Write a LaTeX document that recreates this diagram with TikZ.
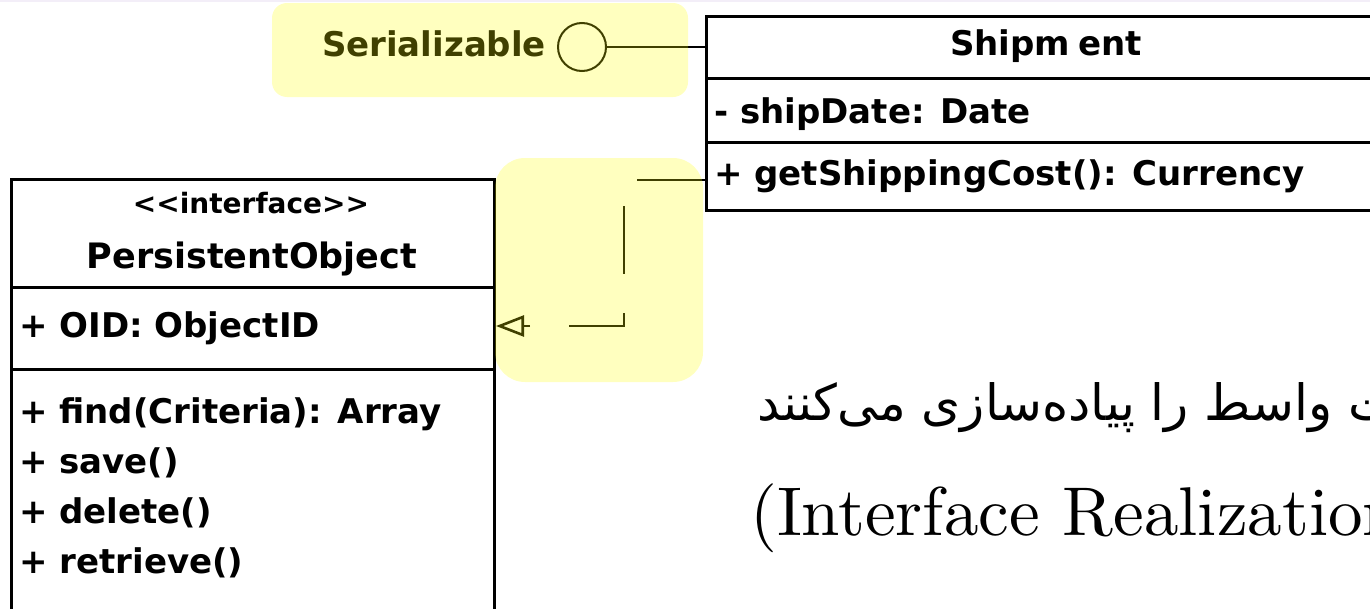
\documentclass[tikz,border=0pt]{standalone}
\usepackage{fontspec}
\usetikzlibrary{arrows.meta,calc}
\newfontfamily\umlfont{DejaVu Sans}
\newfontfamily\farsifont[Script=Arabic]{DejaVu Sans}
\newfontfamily\lmten{lmroman10-regular}[Extension=.otf]
\TeXXeTstate=1
\definecolor{hl}{RGB}{255,255,0}
\definecolor{topband}{RGB}{243,238,248}
\tikzset{
  umlbox/.style={draw=black, line width=3pt, rectangle, inner sep=0pt, anchor=north west},
  divider/.style={draw=black, line width=3pt},
  umltxt/.style={font=\umlfont\bfseries\fontsize{34}{40}\selectfont, inner sep=0pt, anchor=base west},
  umltitle/.style={umltxt, anchor=base},
  lolli/.style={draw=black, line width=2pt, circle, minimum size=48pt, inner sep=0pt},
  conn/.style={draw=black, line width=2.5pt},
  real/.style={draw=black, line width=2.6pt, dash pattern=on 68pt off 39pt,
    -{Triangle[open, length=28pt, width=21pt]}},
  highlight/.style={fill=hl, opacity=0.25},
}
\begin{document}
\begin{tikzpicture}[x=1pt, y=-1pt]
\useasboundingbox (0,0) rectangle (1370,608);
\clip (0,0) rectangle (1370,608);
\fill[white] (0,0) rectangle (1370,608);
\fill[topband] (0,0) rectangle (1370,1.5);

% Shipment class
\node[umlbox, minimum width=685pt, minimum height=194pt] (ship) at (705,15) {};
\draw[divider] ($(ship.north west)+(0,63)$) -- ($(ship.north east)+(0,63)$);
\draw[divider] ($(ship.north west)+(0,127)$) -- ($(ship.north east)+(0,127)$);
\node[umltitle] (shipname) at (1046,55) {Shipm\hspace{8pt}ent};
\node[umltxt] (shipdate) at (714,123) {- shipDate: Date};
\node[umltxt] (shipcost) at (714,185) {+ getShippingCost(): Currency};

% PersistentObject interface
\node[umlbox, minimum width=483pt, minimum height=460pt] (po) at (10,178) {};
\draw[divider] ($(po.north west)+(0,109)$) -- ($(po.north east)+(0,109)$);
\draw[divider] ($(po.north west)+(0,191)$) -- ($(po.north east)+(0,191)$);
\node[umltitle, font=\umlfont\bfseries\fontsize{28}{32}\selectfont] (stereo) at (251,213) {{<}{<}interface{>}{>}};
\node[umltitle, font=\umlfont\bfseries\fontsize{35}{40}\selectfont] (poname) at (252,268) {PersistentObject};
\node[umltxt] (oid) at (19,337) {+ OID: ObjectID};
\node[umltxt] (find) at (19,423) {+ find(Criteria): Array};
\node[umltxt] (save) at (19,473) {+ save()};
\node[umltxt] (delete) at (19,523) {+ delete()};
\node[umltxt] (retrieve) at (19,573) {+ retrieve()};

% Serializable lollipop
\node[umltitle] (sername) at (434,56) {Serializable};
\node[lolli] (ser) at (582,47) {};
\draw[conn] (ser.east) -- (ser.east -| ship.west);

% realization connector
\draw[real] ([yshift=32pt]ship.south west) -- ++(-81,0) |- ([yshift=-148pt]po.north east);

% captions
\node[inner sep=0pt, anchor=base west, font=\farsifont\fontsize{50}{58}\selectfont] (fa) at (757,420)
  {\beginR کلاس‌ها عملیات واسط را پیاده‌سازی می‌کنند\endR};
\node[inner sep=0pt, anchor=base west, font=\lmten\fontsize{69}{80}\selectfont] (lat) at (750,535)
  {(Interface Realization)};

% yellow highlights
\fill[highlight, rounded corners=15pt] (272,3) rectangle (688,97);
\fill[highlight, rounded corners=30pt] (495,158) rectangle (703,382);
\end{tikzpicture}
\end{document}
